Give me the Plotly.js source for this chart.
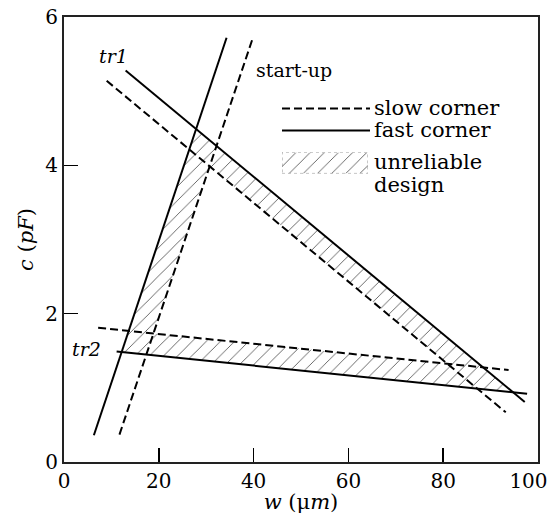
<!DOCTYPE html>
<html>
<head>
<meta charset="utf-8">
<script src="https://cdn.plot.ly/plotly-3.0.1.min.js"></script>
<style>
html,body{margin:0;padding:0;background:#fff;}
#chart{width:548px;height:514px;}
</style>
</head>
<body>
<div id="chart"></div>
<script>
// Line end points (w in um, c in pF)
var startupFastW = [6.3, 34.3],  startupFastC = [0.36, 5.72];
var startupSlowW = [11.7, 39.9], startupSlowC = [0.37, 5.73];
var tr1FastW = [13.0, 97.2],     tr1FastC = [5.28, 0.81];
var tr1SlowW = [9.0, 93.2],      tr1SlowC = [5.14, 0.67];
var tr2FastW = [11.1, 97.7],     tr2FastC = [1.49, 0.92];
var tr2SlowW = [7.2, 93.8],      tr2SlowC = [1.81, 1.24];

var xTicks = [0, 20, 40, 60, 80, 100];
var xTickText = ['0', '20', '40', '60', '80', '100\u00a0\u00a0\u00a0'];
var yTicks = [0, 2, 4, 6];
var legendNames = ['slow corner', 'fast corner', 'unreliable', 'design'];
// legend key box (unit square of its own small overlay axis)
var keyBoxX = [0, 1, 1, 0, 0];
var keyBoxY = [0, 0, 1, 1, 0];

// intersection of two lines given by end points
function cross(ax, ay, bx, by) {
  var x1 = ax[0], y1 = ay[0], x2 = ax[1], y2 = ay[1];
  var x3 = bx[0], y3 = by[0], x4 = bx[1], y4 = by[1];
  var d = (x1 - x2) * (y3 - y4) - (y1 - y2) * (x3 - x4);
  var t = ((x1 - x3) * (y3 - y4) - (y1 - y3) * (x3 - x4)) / d;
  return [x1 + t * (x2 - x1), y1 + t * (y2 - y1)];
}
// outer (fast) triangle minus inner (slow) triangle
var fA = cross(startupFastW, startupFastC, tr1FastW, tr1FastC);
var fB = cross(tr1FastW, tr1FastC, tr2FastW, tr2FastC);
var fC = cross(tr2FastW, tr2FastC, startupFastW, startupFastC);
var sA = cross(startupSlowW, startupSlowC, tr1SlowW, tr1SlowC);
var sB = cross(tr1SlowW, tr1SlowC, tr2SlowW, tr2SlowC);
var sC = cross(tr2SlowW, tr2SlowC, startupSlowW, startupSlowC);
var hatchX = [fA[0], fB[0], fC[0], fA[0], null, sA[0], sC[0], sB[0], sA[0]];
var hatchY = [fA[1], fB[1], fC[1], fA[1], null, sA[1], sC[1], sB[1], sA[1]];

var dashStyle = '8px,4px';
var solid = {color: '#000', width: 2};
var dashed = {color: '#000', width: 2, dash: dashStyle};
var hatch = {shape: '/', size: 10, solidity: 0.08, fgcolor: '#444', bgcolor: 'rgba(0,0,0,0)'};

var traces = [
  {x: hatchX, y: hatchY, mode: 'lines', fill: 'toself', line: {width: 0, color: 'rgba(0,0,0,0)'},
   fillcolor: 'rgba(0,0,0,0)', fillpattern: hatch, hoverinfo: 'skip'},
  {x: tr1SlowW, y: tr1SlowC, mode: 'lines', line: dashed},
  {x: tr1FastW, y: tr1FastC, mode: 'lines', line: solid},
  {x: tr2SlowW, y: tr2SlowC, mode: 'lines', line: dashed},
  {x: tr2FastW, y: tr2FastC, mode: 'lines', line: solid},
  {x: startupSlowW, y: startupSlowC, mode: 'lines', line: dashed},
  {x: startupFastW, y: startupFastC, mode: 'lines', line: solid},
  // legend key for the hatched area
  {x: keyBoxX, y: keyBoxY, xaxis: 'x2', yaxis: 'y2', mode: 'lines', fill: 'toself',
   line: {width: 0.8, color: '#777', dash: 'dot'}, fillcolor: 'rgba(0,0,0,0)', fillpattern: hatch,
   hoverinfo: 'skip'}
];

var serif = "'DejaVu Serif', 'Noto Serif', 'Liberation Serif', serif";
function px2x(p) { return (p - 64) / 474; }
function px2y(p) { return (461.7 - p) / 445.2; }

var lx0 = px2x(282), lx1 = px2x(370), ltx = px2x(372);

function legendText(i, py) {
  return {x: ltx, y: px2y(py), xref: 'paper', yref: 'paper', text: legendNames[i],
          xanchor: 'left', yanchor: 'middle', showarrow: false, font: {family: serif, size: 21}};
}

var layout = {
  width: 548, height: 514,
  margin: {l: 64, r: 10, t: 17, b: 52, pad: 0},
  paper_bgcolor: '#fff', plot_bgcolor: '#fff',
  font: {family: serif, size: 20, color: '#000'},
  showlegend: false,
  xaxis: {range: [0, 100], tickvals: xTicks, ticktext: xTickText, ticks: 'inside', ticklen: 14,
          tickwidth: 1.5, tickcolor: '#000', showline: true, linewidth: 2, linecolor: '#222', mirror: true,
          showgrid: false, zeroline: false, fixedrange: true, ticklabeloverflow: 'allow',
          tickfont: {family: serif, size: 20},
          title: {text: '<i>w</i> (μ<i>m</i>)', standoff: 20, font: {family: serif, size: 21}}},
  yaxis: {range: [0, 6], tickvals: yTicks, ticktext: yTicks.map(String), ticks: 'inside', ticklen: 14,
          tickwidth: 1.5, tickcolor: '#000', showline: true, linewidth: 2, linecolor: '#222', mirror: true,
          showgrid: false, zeroline: false, fixedrange: true, ticklabeloverflow: 'allow',
          tickfont: {family: serif, size: 20},
          title: {text: '<i>c</i> (<i>pF</i>)', standoff: 6, font: {family: serif, size: 21}}},
  xaxis2: {domain: [px2x(282), px2x(368)], range: [0, 1], anchor: 'y2', visible: false, fixedrange: true},
  yaxis2: {domain: [px2y(173), px2y(152)], range: [0, 1], anchor: 'x2', visible: false, fixedrange: true},
  shapes: [
    {type: 'line', xref: 'paper', yref: 'paper', x0: lx0, x1: lx1, y0: px2y(108), y1: px2y(108),
     line: {color: '#000', width: 2, dash: dashStyle}},
    {type: 'line', xref: 'paper', yref: 'paper', x0: lx0, x1: lx1, y0: px2y(130), y1: px2y(130),
     line: {color: '#000', width: 2}}
  ],
  annotations: [
    {x: 10.5, y: 5.47, xref: 'x', yref: 'y', text: '<i>tr1</i>', showarrow: false, font: {family: serif, size: 19}},
    {x: 4.8, y: 1.53, xref: 'x', yref: 'y', text: '<i>tr2</i>', showarrow: false, font: {family: serif, size: 19}},
    {x: 40.0, y: 5.29, xref: 'x', yref: 'y', text: 'start-up', xanchor: 'left', showarrow: false, font: {family: serif, size: 19}},
    legendText(0, 108), legendText(1, 130), legendText(2, 162), legendText(3, 185)
  ]
};

Plotly.newPlot('chart', traces, layout, {displayModeBar: false, staticPlot: true});
</script>
</body>
</html>
